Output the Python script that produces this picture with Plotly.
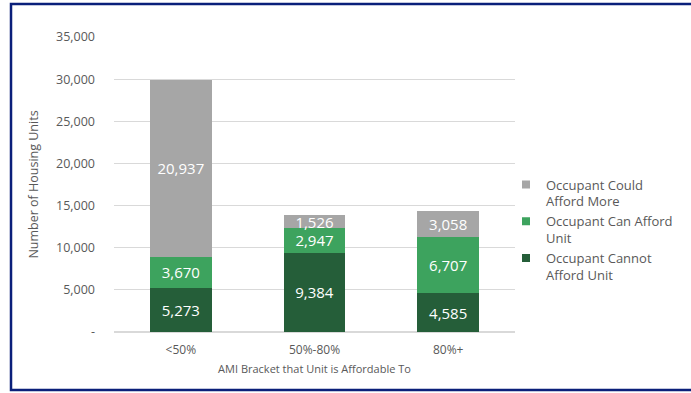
import plotly.graph_objects as go

categories = ["<50%", "50%-80%", "80%+"]
cannot_afford = [5273, 9384, 4585]
can_afford = [3670, 2947, 6707]
could_afford_more = [20937, 1526, 3058]

tick_vals = [0, 5000, 10000, 15000, 20000, 25000, 30000, 35000]
tick_text = ["-", "5,000", "10,000", "15,000", "20,000", "25,000", "30,000", "35,000"]

FONT = "Open Sans"
series = [
    ("Occupant Cannot<br>Afford Unit", cannot_afford, "#255E39"),
    ("Occupant Can Afford<br>Unit", can_afford, "#3DA35E"),
    ("Occupant Could<br>Afford More", could_afford_more, "#A6A6A6"),
]

fig = go.Figure()
for name, vals, col in series:
    fig.add_trace(go.Bar(
        x=categories, y=vals, name=name, marker=dict(color=col, line=dict(width=0)),
        text=[f"{v:,}" for v in vals], textposition="inside", insidetextanchor="middle",
        textfont=dict(color="white", size=15, family=FONT), cliponaxis=False,
        showlegend=False,
    ))
for name, vals, col in series:
    fig.add_trace(go.Scatter(
        x=[None], y=[None], mode="markers", name=name,
        marker=dict(symbol="square", size=8, color=col),
    ))

W, H = 691, 393
L, R, T, B = 114, 176, 37, 61
pw, ph = W - L - R, H - T - B
def px(x):
    return (x - L) / pw
def py(y):
    return (H - B - y) / ph

border = "#0A1F7A"
shapes = [
    dict(type="rect", xref="paper", yref="paper", x0=px(11), x1=px(720), y0=py(4), y1=py(390),
         line=dict(color=border, width=2.5), fillcolor="rgba(0,0,0,0)", layer="above"),
]

fig.update_layout(
    width=W, height=H, margin=dict(l=L, r=R, t=T, b=B, autoexpand=False),
    barmode="stack", bargap=0.54,
    plot_bgcolor="white", paper_bgcolor="white",
    font=dict(family=FONT, color="#595959", size=12),
    uniformtext=dict(minsize=15, mode="show"),
    showlegend=True,
    legend=dict(traceorder="reversed", x=px(506), y=py(230), xanchor="left", yanchor="middle",
                font=dict(size=13, color="#595959", family=FONT), itemwidth=30,
                tracegroupgap=2, bgcolor="rgba(0,0,0,0)", valign="top"),
    shapes=shapes,
    xaxis=dict(showgrid=False, showline=False, ticks="", tickfont=dict(size=12),
               ticklabelstandoff=9,
               title=dict(text="AMI Bracket that Unit is Affordable To", font=dict(size=11), standoff=8)),
    yaxis=dict(range=[0, 35000], tickvals=tick_vals, ticktext=tick_text, showgrid=True,
               gridcolor="#D9D9D9", gridwidth=1, zeroline=True, zerolinecolor="#D9D9D9",
               showline=False, ticks="", ticklabelstandoff=18, tickfont=dict(size=12.5),
               title=dict(text="Number of Housing Units", font=dict(size=12.5), standoff=14)),
)

fig.write_html("out.html", config={"displayModeBar": False},
               post_script="document.body.style.margin='0';")
